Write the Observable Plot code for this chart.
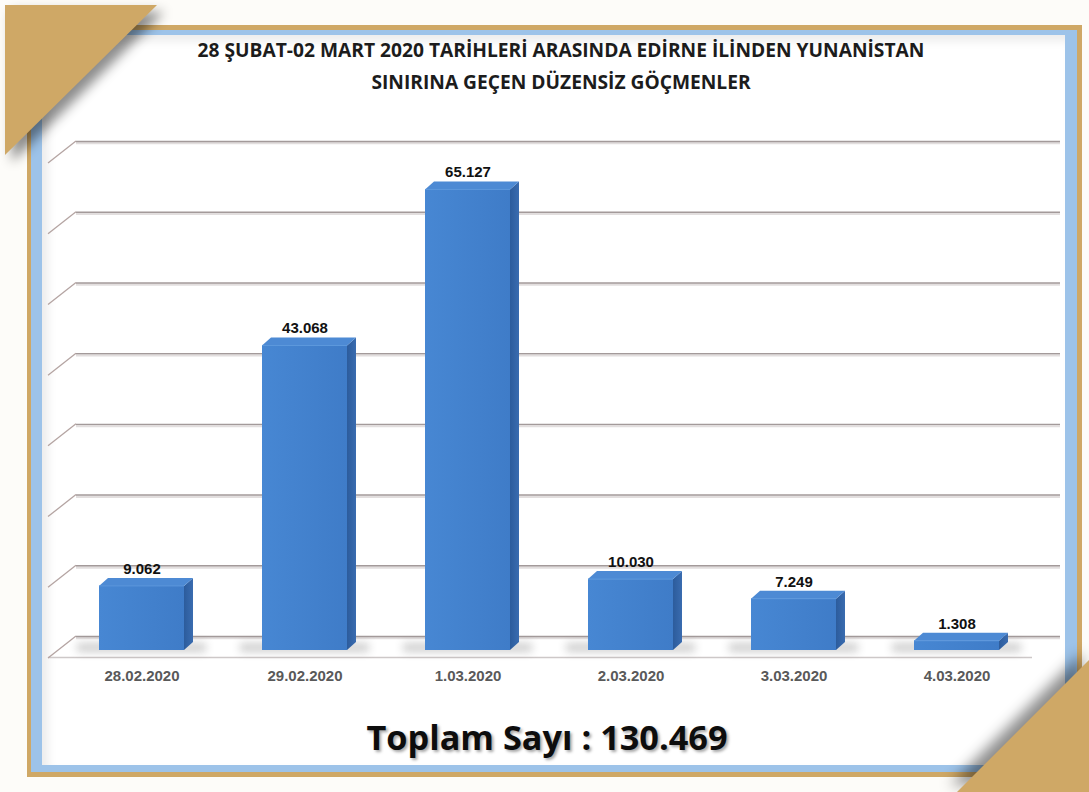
<!DOCTYPE html>
<html><head><meta charset="utf-8">
<script src="https://cdn.jsdelivr.net/npm/d3@7"></script>
<script src="https://cdn.jsdelivr.net/npm/@observablehq/plot@0.6"></script>
<style>
html,body{margin:0;padding:0;background:#fdfcf9;}
#page{position:relative;width:1089px;height:792px;overflow:hidden;background:#fdfcf9;}
.gold{position:absolute;left:27px;top:25px;width:1055px;height:752px;background:#cfa866;}
.blue{position:absolute;left:31px;top:30px;width:1046px;height:742px;background:#9dc3e9;}
.inner{position:absolute;left:42px;top:35px;width:1023px;height:730px;background:#fff;box-shadow:inset 6px 6px 10px rgba(0,0,0,0.08);}
.tri{position:absolute;}
.tri>div{width:100%;height:100%;background:#cfa866;}
#tl{left:0;top:0;width:170px;height:170px;filter:drop-shadow(7px 7px 6px rgba(0,0,0,0.45));}
#tl>div{clip-path:polygon(5px 5px,157px 5px,5px 155px);}
#br{left:940px;top:640px;width:149px;height:152px;filter:drop-shadow(-7px -7px 7px rgba(0,0,0,0.45));}
#br>div{clip-path:polygon(149px 20px,149px 152px,17px 152px);}
#title{position:absolute;left:0;top:34px;width:1122px;text-align:center;font-family:"Open Sans",Lato,sans-serif;font-weight:bold;font-size:19.2px;line-height:32px;color:#1c1c1c;}
#chart{position:absolute;left:0;top:0;}
#total{position:absolute;left:0;top:714px;width:1094px;text-align:center;font-family:"Open Sans",Lato,sans-serif;font-weight:bold;font-size:34.3px;line-height:46px;color:#0d0d0d;text-shadow:2px 2px 3px rgba(0,0,0,0.35);}
</style></head>
<body>
<div id="page">
  <div class="gold"></div>
  <div class="blue"></div>
  <div class="inner"></div>
  <div id="title"></div>
  <div id="chart"></div>
  <div id="total"></div>
  <div class="tri" id="tl"><div></div></div>
  <div class="tri" id="br"><div></div></div>
</div>
<script>
const titleLines = ["28 ŞUBAT-02 MART 2020 TARİHLERİ ARASINDA EDİRNE İLİNDEN YUNANİSTAN", "SINIRINA GEÇEN DÜZENSİZ GÖÇMENLER"];
const dates = ["28.02.2020", "29.02.2020", "1.03.2020", "2.03.2020", "3.03.2020", "4.03.2020"];
const counts = [9062, 43068, 65127, 10030, 7249, 1308];
const valueLabels = ["9.062", "43.068", "65.127", "10.030", "7.249", "1.308"];
const gridValues = [0, 10000, 20000, 30000, 40000, 50000, 60000, 70000];
const totalLabel = "Toplam Sayı : 130.469";

document.getElementById("title").innerHTML = titleLines.map(t => `<div>${t}</div>`).join("");
document.getElementById("total").textContent = totalLabel;

const data = dates.map((d, i) => ({date: d, count: counts[i], label: valueLabels[i]}));

const INSET = 39, BAR_DY = 14, DX = 9, DY = 8;

const chart = Plot.plot({
  width: 1089, height: 700,
  marginTop: 141, marginBottom: 64, marginLeft: 58, marginRight: 49,
  x: {type: "band", domain: dates, padding: 0, axis: null},
  y: {domain: [0, 70000], axis: null},
  style: {background: "transparent", overflow: "visible"},
  marks: [
    Plot.ruleY(gridValues, {stroke: "#e2dede", strokeWidth: 2.5, dy: 1.6, insetLeft: 18, insetRight: -20}),
    Plot.ruleY(gridValues, {stroke: "#a39a9a", strokeWidth: 1.4, insetLeft: 18, insetRight: -20}),
    Plot.ruleY([0], {stroke: "#cdc8c8", strokeWidth: 1.3, dy: 21, insetLeft: -10, insetRight: 8}),
    Plot.rectY(data, {x: "date", y: "count", fill: "#4483cf", insetLeft: INSET, insetRight: INSET, dy: BAR_DY}),
    Plot.text(data, {x: "date", y: "count", text: "label", dy: -3.5, fontFamily: "'Liberation Sans', Arial, sans-serif", fontWeight: "bold", fontSize: 15, fill: "#111"}),
    Plot.text(data, {x: "date", y: 0, text: "date", dy: 39.5, fontFamily: "'Liberation Sans', Arial, sans-serif", fontWeight: "bold", fontSize: 15, fill: "#595959"})
  ]
});
document.getElementById("chart").appendChild(chart);

// 3D faces, drawn from Plot's own scales
const xs = chart.scale("x"), ys = chart.scale("y");
const bw = xs.bandwidth;
const NS = "http://www.w3.org/2000/svg";
const svg = d3.select(chart);
const defs = svg.insert("defs", ":first-child");
const fg = defs.append("linearGradient").attr("id", "frontGrad").attr("x1", 0).attr("x2", 1).attr("y1", 0).attr("y2", 0);
fg.append("stop").attr("offset", 0).attr("stop-color", "#4787d3");
fg.append("stop").attr("offset", 1).attr("stop-color", "#3f7cc8");
const sg = defs.append("linearGradient").attr("id", "sideGrad").attr("x1", 0).attr("x2", 1).attr("y1", 0).attr("y2", 0);
sg.append("stop").attr("offset", 0).attr("stop-color", "#2c5c9c");
sg.append("stop").attr("offset", 1).attr("stop-color", "#3a6cb0");
const blur = defs.append("filter").attr("id", "blurF").attr("x", "-50%").attr("y", "-200%").attr("width", "200%").attr("height", "500%");
blur.append("feGaussianBlur").attr("stdDeviation", 4);

const rectG = chart.querySelector('g[aria-label="rect"]');
rectG.setAttribute("fill", "url(#frontGrad)");

// left wall diagonals + floor shadows (behind bars)
const back = document.createElementNS(NS, "g");
rectG.before(back);
const bk = d3.select(back);
const xLeftWall = 58 + 18, wallDX = -28, wallDY = 22;
bk.selectAll("line.diag").data(gridValues).join("line")
  .attr("x1", xLeftWall).attr("y1", d => ys.apply(d))
  .attr("x2", xLeftWall + wallDX).attr("y2", d => ys.apply(d) + wallDY)
  .attr("stroke", "#b4a4a2").attr("stroke-width", 1.3);
const y0 = ys.apply(0) + BAR_DY;
bk.selectAll("rect.sh").data(data).join("rect")
  .attr("x", d => xs.apply(d.date) + INSET - 22)
  .attr("y", y0 - 7)
  .attr("width", bw - 2 * INSET + 44)
  .attr("height", 9)
  .attr("fill", "#555").attr("opacity", 0.28).attr("filter", "url(#blurF)");

const front = document.createElementNS(NS, "g");
rectG.after(front);
const fr = d3.select(front);
data.forEach(d => {
  const xl = xs.apply(d.date) + INSET, xr = xs.apply(d.date) + bw - INSET;
  const yt = ys.apply(d.count) + BAR_DY;
  fr.append("polygon")
    .attr("points", [[xr, yt], [xr + DX, yt - DY], [xr + DX, y0 - DY], [xr, y0]].join(" "))
    .attr("fill", "url(#sideGrad)");
  fr.append("polygon")
    .attr("points", [[xl, yt], [xl + DX, yt - DY], [xr + DX, yt - DY], [xr, yt]].join(" "))
    .attr("fill", "#4d8ad4");
  fr.append("line").attr("x1", xl).attr("y1", yt).attr("x2", xr).attr("y2", yt)
    .attr("stroke", "#5b97dc").attr("stroke-width", 1);
});
</script>
</body></html>
